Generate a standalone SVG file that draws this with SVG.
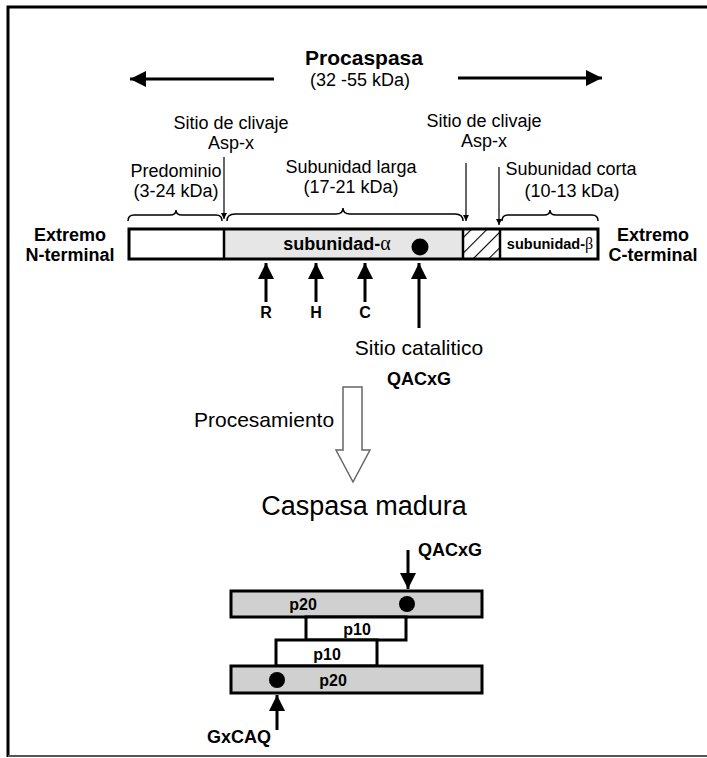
<svg xmlns="http://www.w3.org/2000/svg" width="707" height="758" viewBox="0 0 707 758">
<style>
text{font-family:"Liberation Sans",Arial,sans-serif;fill:#000}
.b{font-weight:bold}
.m{text-anchor:middle}
.lbl{font-size:18px}
.thin{stroke:#000;stroke-width:1.2;fill:none}
.thick{stroke:#000;stroke-width:3;fill:none}
.brace{stroke:#000;stroke-width:1.5;fill:none}
.box{stroke:#000;stroke-width:3}
.gr{font-family:"Liberation Serif",serif;font-weight:normal}
</style>
<defs>
<marker id="sa" viewBox="0 0 10 10" refX="10" refY="5" markerWidth="6" markerHeight="6" markerUnits="userSpaceOnUse" orient="auto"><path d="M0,0 L10,5 L0,10 z" fill="#000"/></marker>
<marker id="ba" viewBox="0 0 10 10" refX="10" refY="5" markerWidth="16" markerHeight="16" markerUnits="userSpaceOnUse" orient="auto"><path d="M0,0 L10,5 L0,10 z" fill="#000"/></marker>
<pattern id="hatch" width="11" height="11" patternUnits="userSpaceOnUse" patternTransform="rotate(45)"><rect width="11" height="11" fill="#fff"/><line x1="0" y1="0" x2="0" y2="11" stroke="#000" stroke-width="2.2"/></pattern>
</defs>
<g id="frame">
<path d="M8,757 L8,7 L707,7" fill="none" stroke="#000" stroke-width="3"/>
<line x1="8" y1="756" x2="707" y2="756" stroke="#555" stroke-width="2"/>
</g>
<g id="title">
<text x="364" y="65" class="b m" font-size="21">Procaspasa</text>
<text x="360" y="86" class="m" font-size="18">(32 -55 kDa)</text>
</g>
<g id="connectors">
<line x1="274" y1="79" x2="130" y2="79" class="thick" marker-end="url(#ba)"/>
<line x1="458" y1="78" x2="602" y2="78" class="thick" marker-end="url(#ba)"/>
<line x1="224" y1="157" x2="224" y2="219" class="thin" marker-end="url(#sa)"/>
<line x1="466" y1="163" x2="466" y2="221" class="thin" marker-end="url(#sa)"/>
<line x1="499" y1="167" x2="499" y2="225" class="thin" marker-end="url(#sa)"/>
<line x1="266" y1="302" x2="266" y2="263" class="thick" marker-end="url(#ba)"/>
<line x1="316" y1="302" x2="316" y2="263" class="thick" marker-end="url(#ba)"/>
<line x1="365" y1="302" x2="365" y2="263" class="thick" marker-end="url(#ba)"/>
<line x1="419" y1="328" x2="419" y2="263" class="thick" marker-end="url(#ba)"/>
<path d="M343,387 L362,387 L362,450 L370,450 L353,482 L336,450 L343,450 Z" fill="#fff" stroke="#666" stroke-width="1.5"/>
<line x1="408" y1="550" x2="408" y2="589" class="thick" marker-end="url(#ba)"/>
<line x1="277" y1="730" x2="277" y2="695" class="thick" marker-end="url(#ba)"/>
</g>
<g id="labels-top">
<text x="231" y="129" class="m lbl">Sitio de clivaje</text>
<text x="231" y="149" class="m lbl">Asp-x</text>
<text x="484" y="127" class="m lbl">Sitio de clivaje</text>
<text x="484" y="147" class="m lbl">Asp-x</text>
<text x="176" y="177" class="m lbl">Predominio</text>
<text x="176" y="197" class="m lbl">(3-24 kDa)</text>
<text x="351" y="173" class="m lbl">Subunidad larga</text>
<text x="351" y="193" class="m lbl">(17-21 kDa)</text>
<text x="571" y="175" class="m lbl">Subunidad corta</text>
<text x="572" y="197" class="m lbl">(10-13 kDa)</text>
</g>
<g id="braces">
<path class="brace" d="M128,221 Q128,215 134,215 L170,215 Q176,215 176,210 Q176,215 182,215 L216,215 Q222,215 222,221"/>
<path class="brace" d="M227,221 Q227,214 235,214 L336,214 Q343,214 343,208 Q343,214 350,214 L455,214 Q463,214 463,221"/>
<path class="brace" d="M502,221 Q502,215 508,215 L544,215 Q550,215 550,210 Q550,215 556,215 L592,215 Q598,215 598,221"/>
</g>
<g id="procaspasa-bar">
<rect x="129" y="229" width="95" height="30" fill="#fff"/>
<rect x="224" y="229" width="239" height="30" fill="#e6e6e6"/>
<rect x="463" y="229" width="37" height="30" fill="url(#hatch)"/>
<rect x="500" y="229" width="98" height="30" fill="#fff"/>
<rect x="129" y="229" width="469" height="30" fill="none" class="box" stroke-width="2.5"/>
<line x1="224" y1="229" x2="224" y2="259" stroke="#000" stroke-width="2.5"/>
<line x1="463" y1="229" x2="463" y2="259" stroke="#000" stroke-width="2.5"/>
<line x1="500" y1="229" x2="500" y2="259" stroke="#000" stroke-width="2.5"/>
<circle cx="420" cy="247" r="8.5" fill="#000"/>
<text x="337" y="250" class="b m" font-size="18">subunidad-<tspan class="gr" font-size="20">α</tspan></text>
<text x="550" y="249" class="b m" font-size="14.5">subunidad-<tspan class="gr" font-size="16">β</tspan></text>
</g>
<g id="ends">
<text x="70" y="241" class="b m" font-size="18">Extremo</text>
<text x="70" y="261" class="b m" font-size="18">N-terminal</text>
<text x="653" y="241" class="b m" font-size="18">Extremo</text>
<text x="653" y="261" class="b m" font-size="18">C-terminal</text>
</g>
<g id="residues">
<text x="266" y="318" class="b m" font-size="16">R</text>
<text x="316" y="318" class="b m" font-size="16">H</text>
<text x="365" y="318" class="b m" font-size="16">C</text>
<text x="419" y="355" class="m" font-size="21">Sitio catalitico</text>
<text x="419" y="385" class="b m" font-size="18">QACxG</text>
</g>
<g id="processing">
<text x="194" y="427" font-size="21">Procesamiento</text>
<text x="364" y="515" class="m" font-size="27">Caspasa madura</text>
</g>
<g id="mature">
<rect x="231" y="591" width="251" height="26" fill="#d0d0d0" class="box"/>
<rect x="306" y="617" width="100" height="23" fill="#fff" class="box"/>
<rect x="276" y="640" width="101" height="26" fill="#fff" class="box"/>
<rect x="231" y="666" width="251" height="27" fill="#d0d0d0" class="box"/>
<circle cx="407" cy="604" r="8" fill="#000"/>
<circle cx="277" cy="680" r="8" fill="#000"/>
<text x="303" y="610" class="b m" font-size="16">p20</text>
<text x="357" y="635" class="b m" font-size="16">p10</text>
<text x="327" y="660" class="b m" font-size="16">p10</text>
<text x="333" y="686" class="b m" font-size="16">p20</text>
<text x="418" y="556" class="b" font-size="18">QACxG</text>
<text x="207" y="743" class="b" font-size="18">GxCAQ</text>
</g>
</svg>
